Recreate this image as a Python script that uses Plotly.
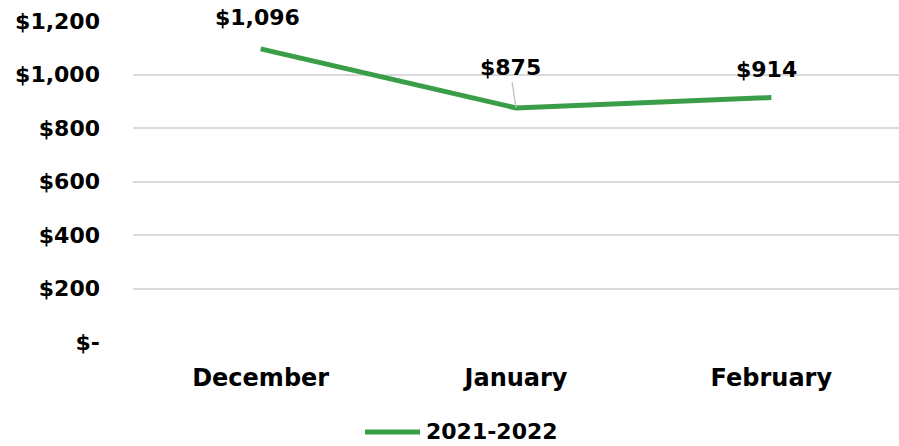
import plotly.graph_objects as go

months = ["December", "January", "February"]
values = [1096, 875, 914]
series_name = "2021-2022"
tick_values = [0, 200, 400, 600, 800, 1000, 1200]
tick_labels = ["$-", "$200", "$400", "$600", "$800", "$1,000", "$1,200"]

green = "#3A9E48"
font_family = "'DejaVu Sans', sans-serif"
font_size = 22

fig = go.Figure()
fig.add_trace(go.Scatter(
    x=months, y=values, mode="lines", name=series_name,
    line=dict(color=green, width=5),
    showlegend=False,
))

# value labels above each point; January has a short leader line
offsets = {"December": (-3, -31), "January": (-6, -40), "February": (-5, -28)}
for m, v in zip(months, values):
    ax, ay = offsets[m]
    fig.add_annotation(
        x=m, y=v, text=f"${v:,}", ax=ax, ay=ay,
        showarrow=True,
        arrowhead=0, arrowwidth=1.2, standoff=0,
        arrowcolor="#bfbfbf" if m == "January" else "rgba(0,0,0,0)",
        font=dict(family=font_family, size=font_size, color="black",
                  weight="bold"),
    )

# legend entry below the chart with a long line sample
legend_y = -0.28
fig.add_shape(type="line", xref="paper", yref="paper",
              x0=0.3029, x1=0.3747, y0=legend_y, y1=legend_y,
              line=dict(color=green, width=5))
fig.add_annotation(xref="paper", yref="paper", x=0.3799, y=legend_y,
                   xanchor="left", yanchor="middle", showarrow=False,
                   text=series_name,
                   font=dict(family=font_family, size=font_size,
                             color="black", weight="bold"))

fig.update_layout(
    width=899, height=446,
    margin=dict(l=133, r=0, t=21, b=104, autoexpand=False),
    plot_bgcolor="white", paper_bgcolor="white",
    font=dict(family=font_family, size=font_size, color="black"),
    xaxis=dict(showgrid=False, showline=False, ticks="",
               ticklabelstandoff=19,
               tickfont=dict(size=24, weight="bold"), range=[-0.5, 2.5]),
    yaxis=dict(range=[0, 1200], tickvals=tick_values, ticktext=tick_labels,
               showgrid=True, gridcolor="#d9d9d9", gridwidth=1.5,
               zeroline=False, ticks="", ticklabelstandoff=32,
               tickfont=dict(size=font_size, weight="bold")),
)

fig.write_html("out.html")
